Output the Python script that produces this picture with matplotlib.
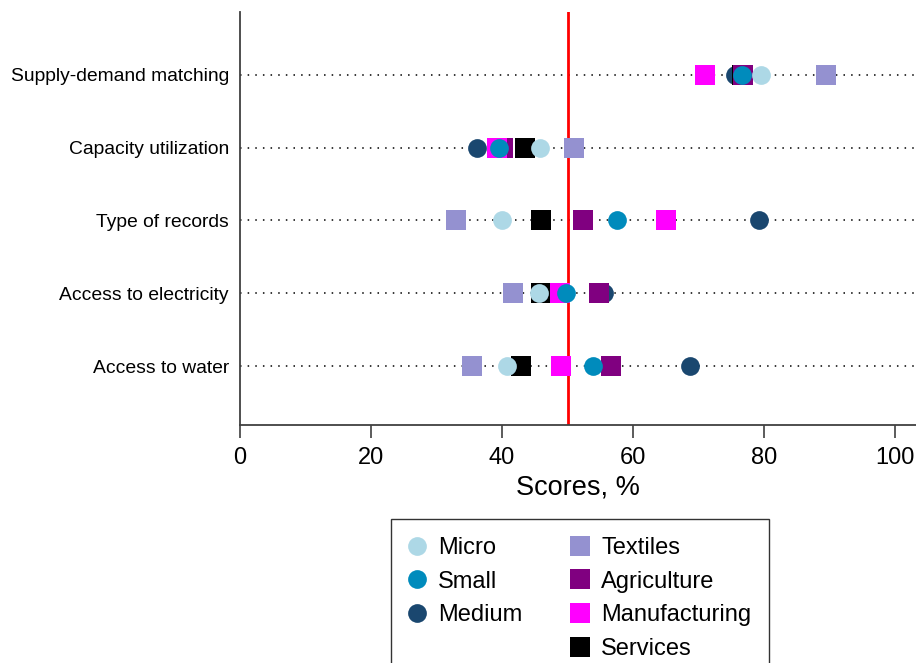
import matplotlib.pyplot as plt
from matplotlib.lines import Line2D

plt.rcParams['font.family'] = ['Liberation Sans', 'DejaVu Sans']

# ---- data (scores in %) ----
indicators = ['Access to water', 'Access to electricity', 'Type of records',
              'Capacity utilization', 'Supply-demand matching']

medium = [68.7, 55.6, 79.3, 36.2, 75.6]
textiles = [35.4, 41.7, 33.0, 51.0, 89.4]
agriculture = [56.7, 54.8, 52.3, 40.2, 76.8]
manufacturing = [49.0, 48.8, 65.1, 39.3, 71.0]
services = [42.9, 46.0, 45.9, 43.5, 76.6]
micro = [40.8, 45.7, 40.0, 45.8, 79.6]
small = [53.9, 49.7, 57.5, 39.5, 76.6]

threshold = 50

# ---- styling ----
series = [
    ('Medium', medium, 'o', '#1a476f'),
    ('Services', services, 's', '#000000'),
    ('Textiles', textiles, 's', '#9491d0'),
    ('Agriculture', agriculture, 's', '#800080'),
    ('Manufacturing', manufacturing, 's', '#ff00ff'),
    ('Micro', micro, 'o', '#add8e6'),
    ('Small', small, 'o', '#008bbc'),
]

fig = plt.figure(figsize=(9.16, 6.63), dpi=100)
ax = fig.add_axes([0.262, 0.359, 0.738, 0.623])

ypos = list(range(1, len(indicators) + 1))

# dotted guide lines
for y in ypos:
    ax.axhline(y, color='black', linestyle=(0, (1, 4)), linewidth=1.1, zorder=1)

handles = {}
for name, vals, mk, col in series:
    size = 14.5 if mk == 's' else 13.5
    h, = ax.plot(vals, ypos, linestyle='none', marker=mk, markersize=size,
                 color=col, markeredgewidth=0, zorder=3)
    handles[name] = h

ax.axvline(threshold, color='#ff0000', linewidth=2, zorder=2)

ax.set_xlim(0, 103.2)
ax.set_ylim(0.19, 5.865)
ax.set_yticks(ypos)
ax.set_yticklabels(indicators, fontsize=13.9)
ax.tick_params(axis='y', length=0, pad=8)
ax.set_xticks([0, 20, 40, 60, 80, 100])
ax.tick_params(axis='x', labelsize=17, length=9, width=1.2, direction='out',
               color='#404040', pad=7)
ax.set_xlabel('Scores, %', fontsize=19.5, labelpad=4)

for s in ['top', 'right']:
    ax.spines[s].set_visible(False)
for s in ['left', 'bottom']:
    ax.spines[s].set_linewidth(1.3)
    ax.spines[s].set_color('#404040')

blank = Line2D([], [], linestyle='none', marker='')
leg_handles = [handles['Micro'], handles['Small'], handles['Medium'], blank,
               handles['Textiles'], handles['Agriculture'],
               handles['Manufacturing'], handles['Services']]
leg_labels = ['Micro', 'Small', 'Medium', '',
              'Textiles', 'Agriculture', 'Manufacturing', 'Services']
leg = fig.legend(leg_handles, leg_labels, ncol=2, loc='upper center',
                 bbox_to_anchor=(0.633, 0.217), fontsize=17, frameon=True,
                 fancybox=False, edgecolor='black', handletextpad=0.55,
                 columnspacing=2.1, labelspacing=0.5, borderpad=0.75,
                 handlelength=0.7, borderaxespad=0)
leg.get_frame().set_linewidth(1.0)

fig.savefig('out.png', dpi=100)
